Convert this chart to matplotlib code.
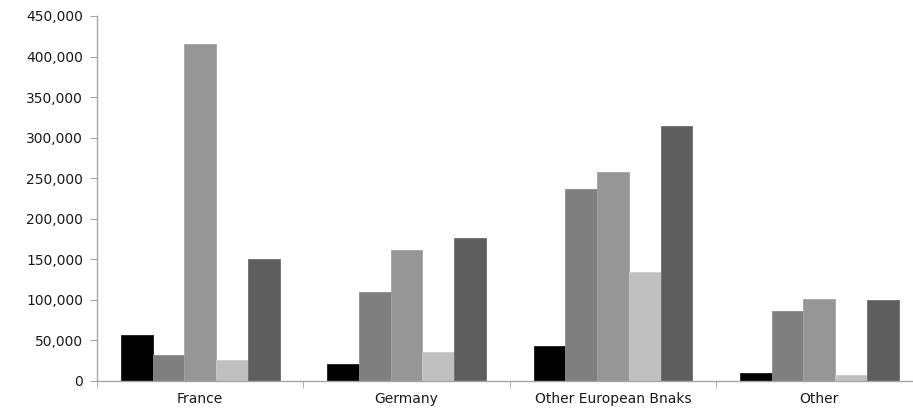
#!/usr/bin/env python3

import matplotlib
matplotlib.use("Agg")
import matplotlib.pyplot as plt
import numpy as np
from matplotlib.ticker import FuncFormatter, MultipleLocator

categories = ["France", "Germany", "Other European Bnaks", "Other"]

# five unnamed series, in drawing order (no legend in the original)
series_a = [56000, 21000, 43000, 10000]
series_b = [32000, 110000, 237000, 86000]
series_c = [416000, 161000, 258000, 101000]
series_d = [25000, 35000, 134000, 7000]
series_e = [150000, 176000, 314000, 99000]

colors = ["#000000", "#7f7f7f", "#969696", "#c0c0c0", "#5e5e5e"]
edges = ["#1a1a1a", "#8c8c8c", "#a3a3a3", "#cacaca", "#6e6e6e"]


def bar_chart(categories, stats):
    fig = plt.figure(figsize=(9.13, 4.09), dpi=100)
    # axis runs off the right edge, as in the reference crop
    ax = fig.add_axes([0.1062, 0.0692, 0.9042, 0.8917])

    x = np.arange(len(categories))
    n = len(stats)
    width = 1.0 / (n + 1.5)

    for i, values in enumerate(stats):
        offset = width * (i - (n - 1) / 2)
        ax.bar(x + offset, values, width, color=colors[i],
               edgecolor=edges[i], linewidth=0.6)

    ax.set_xlim(-0.5, len(categories) - 0.5)
    ax.set_ylim(0, 450000)
    ax.yaxis.set_major_locator(MultipleLocator(50000))
    ax.yaxis.set_major_formatter(FuncFormatter(lambda v, p: f"{int(v):,}"))

    ax.set_xticks(x, categories)
    ax.set_xticks(np.arange(-0.5, len(categories)), minor=True)

    for side in ("top", "right"):
        ax.spines[side].set_visible(False)
    for side in ("left", "bottom"):
        ax.spines[side].set_color("#a6a6a6")
        ax.spines[side].set_linewidth(1.0)

    ax.tick_params(axis="x", which="major", length=0, pad=8,
                   labelsize=10, labelcolor="#1a1a1a")
    ax.tick_params(axis="x", which="minor", length=5, color="#a6a6a6",
                   direction="out")
    ax.tick_params(axis="y", length=5, color="#a6a6a6", pad=5,
                   labelsize=10, labelcolor="#1a1a1a")

    return fig


def main():
    fig = bar_chart(categories,
                    [series_a, series_b, series_c, series_d, series_e])
    fig.savefig("out.png", dpi=100)


if __name__ == "__main__":
    main()
